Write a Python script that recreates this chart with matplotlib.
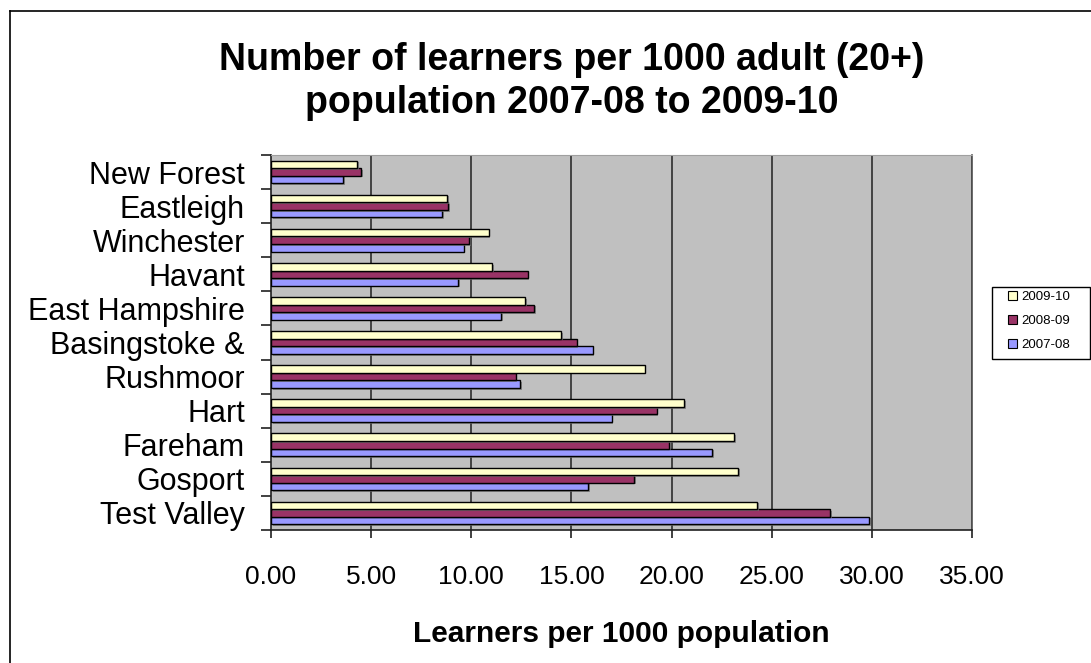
import matplotlib
matplotlib.use("Agg")
import matplotlib.pyplot as plt
import matplotlib.patheffects as pe
from matplotlib.patches import Patch, Rectangle
from matplotlib.lines import Line2D
import numpy as np

plt.rcParams['font.family'] = ['Liberation Sans', 'DejaVu Sans']

# Districts, bottom to top
districts = ["Test Valley", "Gosport", "Fareham", "Hart", "Rushmoor",
             "Basingstoke &", "East Hampshire", "Havant", "Winchester",
             "Eastleigh", "New Forest"]

# Learners per 1000 adult population
y2007_08 = [29.88, 15.84, 22.04, 17.01, 12.44, 16.06, 11.49, 9.36, 9.62, 8.54, 3.59]
y2008_09 = [27.91, 18.14, 19.89, 19.26, 12.21, 15.26, 13.13, 12.81, 9.89, 8.86, 4.49]
y2009_10 = [24.29, 23.34, 23.11, 20.63, 18.66, 14.49, 12.69, 11.04, 10.86, 8.78, 4.31]

series = [("2007-08", y2007_08, "#9999FF"),
          ("2008-09", y2008_09, "#993366"),
          ("2009-10", y2009_10, "#FFFFCC")]

xticks = [0, 5, 10, 15, 20, 25, 30, 35]
xticklabels = ["0.00", "5.00", "10.00", "15.00", "20.00", "25.00", "30.00", "35.00"]

W, H = 1091, 663
PX = 72 / 100  # points per pixel at 100 dpi
fig = plt.figure(figsize=(W / 100, H / 100), dpi=100)
fig.patch.set_facecolor("white")

ax = fig.add_axes([271 / W, 1 - 530 / H, (972 - 271) / W, (530 - 155) / H])
ax.set_facecolor("#C0C0C0")

pos = np.arange(len(districts))
bar_h = 0.222
shadow = [pe.SimplePatchShadow(offset=(1.2, -1.2), shadow_rgbFace="#707070", alpha=0.7),
          pe.Normal()]
for k, (name, vals, col) in enumerate(series):
    bars = ax.barh(pos + (k - 1) * bar_h, vals, height=bar_h, color=col,
                   edgecolor="black", linewidth=1.0, zorder=3, label=name)
    for b in bars:
        b.set_path_effects(shadow)

ax.set_xlim(0, 35)
ax.set_ylim(-0.5, len(districts) - 0.5)

ax.set_xticks(xticks)
ax.set_xticklabels(xticklabels, fontsize=19)
ax.tick_params(axis="x", direction="out", length=8 * PX, width=1.2, color="#202020",
               pad=27 * PX)
for v in xticks[1:]:
    ax.axvline(v, color="#202020", linewidth=1.1, zorder=1)

# Category boundaries carry the tick marks; names sit at band centres
ax.set_yticks(np.arange(len(districts) + 1) - 0.5)
ax.set_yticklabels([])
ax.set_yticks(pos, minor=True)
ax.set_yticklabels(districts, minor=True, fontsize=22)
ax.tick_params(axis="y", which="major", direction="out", length=10 * PX, width=1.2,
               color="#202020")
ax.tick_params(axis="y", which="minor", length=0, pad=26 * PX)

for s in ["left", "bottom"]:
    ax.spines[s].set_color("#202020")
    ax.spines[s].set_linewidth(1.2)
ax.spines["top"].set_color("#A0A0A0")
ax.spines["right"].set_color("#505050")
ax.spines["right"].set_linewidth(1.2)

ax.set_xlabel("Learners per 1000 population", fontsize=21.5, fontweight="bold")
ax.xaxis.set_label_coords(0.5, (530 - 634) / 375)
ax.xaxis.label.set_va("center")

fig.text(572 / W, 1 - 60 / H, "Number of learners per 1000 adult (20+)",
         ha="center", va="center", fontsize=27, fontweight="bold")
fig.text(572 / W, 1 - 103 / H, "population 2007-08 to 2009-10",
         ha="center", va="center", fontsize=27, fontweight="bold")

# Legend box
fig.add_artist(Rectangle((992 / W, 1 - 359 / H), 98 / W, 72 / H,
                         transform=fig.transFigure, facecolor="white",
                         edgecolor="black", linewidth=1.0))
handles = [Patch(facecolor=c, edgecolor="black", linewidth=0.8, label=n)
           for n, _, c in reversed(series)]
leg = fig.legend(handles=handles, loc="upper left",
                 bbox_to_anchor=(1008 / W, 1 - 291 / H), fontsize=9.5,
                 frameon=False, handlelength=0.7, handleheight=0.7,
                 handletextpad=0.3, labelspacing=0.9, borderpad=0.0,
                 borderaxespad=0)

# Outer chart frame
fig.add_artist(Line2D([10 / W, 10 / W], [0, 1 - 11 / H], transform=fig.transFigure,
                      color="black", linewidth=1.2))
fig.add_artist(Line2D([10 / W, 1], [1 - 11 / H, 1 - 11 / H], transform=fig.transFigure,
                      color="black", linewidth=1.2))

fig.savefig("out.png", dpi=100)
